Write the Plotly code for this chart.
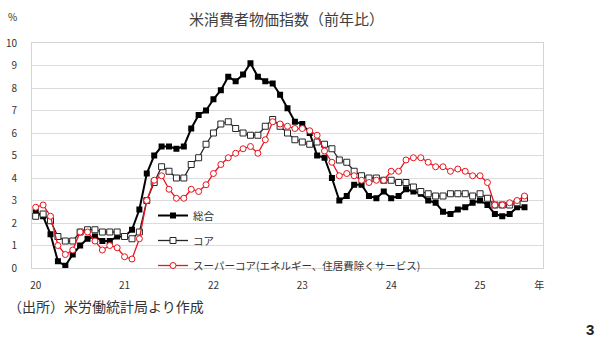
import plotly.graph_objects as go

# Monthly year-on-year rates (%), Jan 2020 - Jul 2025
headline = [
    2.5, 2.3, 1.5, 0.3, 0.1, 0.6, 1.0, 1.3, 1.4, 1.2, 1.2, 1.4,
    1.4, 1.7, 2.6, 4.2, 5.0, 5.4, 5.4, 5.3, 5.4, 6.2, 6.8, 7.0,
    7.5, 7.9, 8.5, 8.3, 8.6, 9.1, 8.5, 8.3, 8.2, 7.7, 7.1, 6.5,
    6.4, 6.0, 5.0, 4.9, 4.0, 3.0, 3.2, 3.7, 3.7, 3.2, 3.1, 3.4,
    3.1, 3.2, 3.5, 3.4, 3.3, 3.0, 2.9, 2.5, 2.4, 2.6, 2.7, 2.9,
    3.0, 2.8, 2.4, 2.3, 2.4, 2.7, 2.7,
]
core = [
    2.3, 2.4, 2.1, 1.4, 1.2, 1.2, 1.6, 1.7, 1.7, 1.6, 1.6, 1.6,
    1.4, 1.3, 1.6, 3.0, 3.8, 4.5, 4.3, 4.0, 4.0, 4.6, 4.9, 5.5,
    6.0, 6.4, 6.5, 6.2, 6.0, 5.9, 5.9, 6.3, 6.6, 6.3, 6.0, 5.7,
    5.6, 5.5, 5.6, 5.5, 5.3, 4.8, 4.7, 4.3, 4.1, 4.0, 4.0, 3.9,
    3.9, 3.8, 3.8, 3.6, 3.4, 3.3, 3.2, 3.2, 3.3, 3.3, 3.3, 3.2,
    3.3, 3.1, 2.8, 2.8, 2.8, 2.9, 3.1,
]
supercore = [
    2.7, 2.8, 2.3, 1.0, 0.6, 0.8, 1.6, 1.6, 1.2, 0.8, 1.0, 0.9,
    0.5, 0.4, 1.3, 3.0, 3.9, 4.1, 3.5, 3.1, 3.1, 3.5, 3.4, 3.7,
    4.2, 4.6, 4.9, 5.1, 5.3, 5.4, 5.1, 5.7, 6.5, 6.4, 6.3, 6.2,
    6.2, 6.1, 5.9, 5.2, 4.7, 4.1, 4.2, 4.1, 3.9, 3.8, 3.9, 3.9,
    4.3, 4.3, 4.8, 4.9, 4.9, 4.7, 4.5, 4.5, 4.3, 4.4, 4.3, 4.1,
    4.1, 3.8, 2.8, 2.8, 2.9, 3.0, 3.2,
]
months = list(range(len(headline)))  # 0 = Jan 2020

year_ticks = [0, 12, 24, 36, 48, 60, 68]
year_labels = ["20", "21", "22", "23", "24", "25", "年"]
y_ticks = list(range(0, 11))

series_names = ["総合", "コア", "スーパーコア(エネルギー、住居費除くサービス)"]

JP = "Noto Sans CJK JP"
W, H = 600, 342
L, R, T, B = 32, 57, 43, 74

fig = go.Figure()
fig.add_trace(go.Scatter(
    x=months, y=headline, name=series_names[0], mode="lines+markers",
    line=dict(color="#000000", width=2),
    marker=dict(symbol="square", size=6, color="#000000"),
    legendgroup="a",
))
fig.add_trace(go.Scatter(
    x=months, y=core, name=series_names[1], mode="lines+markers",
    line=dict(color="#262626", width=1.3),
    marker=dict(symbol="square", size=6, color="#ffffff",
                line=dict(color="#262626", width=1)),
    legendgroup="b",
))
fig.add_trace(go.Scatter(
    x=months, y=supercore, name=series_names[2], mode="lines+markers",
    line=dict(color="#e8141e", width=1.3),
    marker=dict(symbol="circle", size=6, color="#ffffff",
                line=dict(color="#e8141e", width=1)),
    legendgroup="c",
))

pw, ph = W - L - R, H - T - B


def px_x(v):
    return (v - L) / pw


def px_y(v):
    return (H - B - v) / ph


fig.update_layout(
    width=W, height=H,
    margin=dict(l=L, r=R, t=T, b=B, autoexpand=False),
    paper_bgcolor="#ffffff", plot_bgcolor="#ffffff",
    font=dict(family=JP, color="#333333", size=10),
    showlegend=True,
    legend=dict(
        x=px_x(153), y=px_y(201), xanchor="left", yanchor="top",
        bgcolor="rgba(0,0,0,0)", font=dict(size=10.5, color="#333333"),
        traceorder="grouped", tracegroupgap=6, itemwidth=30,
    ),
    xaxis=dict(
        range=[-0.5, 68.5], tickmode="array", tickvals=year_ticks, ticktext=year_labels,
        showgrid=False, zeroline=False, showline=True, linecolor="#d4d4d4", linewidth=1,
        mirror=True, ticks="", ticklabelstandoff=8, automargin=False,
        tickfont=dict(size=10, color="#333333"),
    ),
    yaxis=dict(
        range=[0, 10], tickmode="array", tickvals=y_ticks,
        showgrid=True, gridcolor="#dcdcdc", gridwidth=1, zeroline=False,
        showline=True, linecolor="#d4d4d4", linewidth=1, mirror=True,
        ticks="", ticklabelstandoff=12, automargin=False,
        tickfont=dict(size=10, color="#333333"),
    ),
    annotations=[
        dict(text="米消費者物価指数（前年比）", xref="paper", yref="paper",
             x=px_x(286), y=px_y(19), xanchor="center", yanchor="middle",
             showarrow=False, font=dict(size=15, color="#404040", family=JP)),
        dict(text="%", xref="paper", yref="paper",
             x=px_x(12), y=px_y(17), xanchor="center", yanchor="middle",
             showarrow=False, font=dict(size=10, color="#333333", family=JP)),
        dict(text="（出所）米労働統計局より作成", xref="paper", yref="paper",
             x=px_x(6), y=px_y(306), xanchor="left", yanchor="middle",
             showarrow=False, font=dict(size=14, color="#333333", family=JP)),
        dict(text="<b>3</b>", xref="paper", yref="paper",
             x=px_x(590), y=px_y(329), xanchor="center", yanchor="middle",
             showarrow=False, font=dict(size=15, color="#222222", family="Liberation Sans")),
    ],
)

fig.write_html("out.html")
